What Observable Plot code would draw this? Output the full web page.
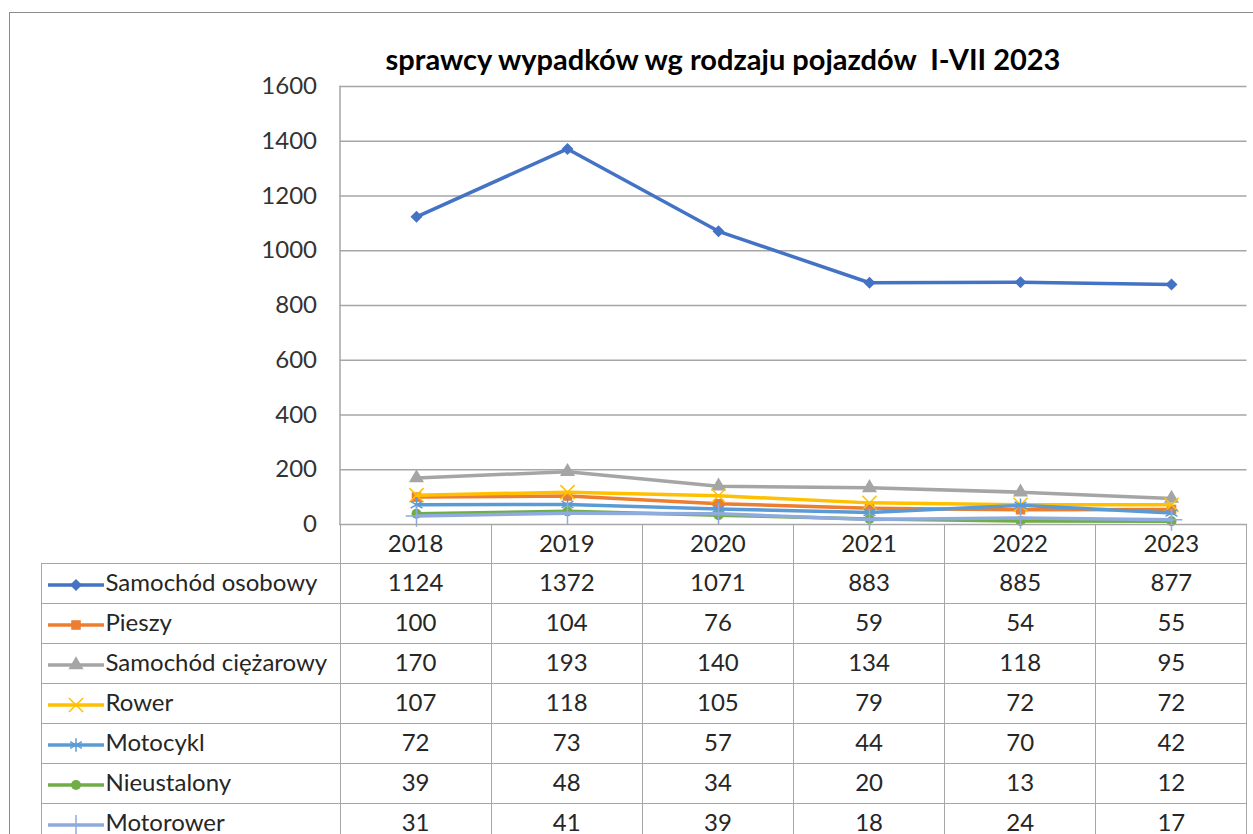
<!DOCTYPE html>
<html><head><meta charset="utf-8">
<script src="https://cdn.jsdelivr.net/npm/d3@7"></script>
<script src="https://cdn.jsdelivr.net/npm/@observablehq/plot@0.6"></script>
<style>
body{margin:0;background:#fff;font-family:Lato,"Open Sans",sans-serif;}
#wrap{position:relative;width:1253px;height:834px;overflow:hidden;background:#fff;}
#frame{position:absolute;left:9px;top:12px;width:1400px;height:1000px;border:1.5px solid #8c8c8c;box-sizing:border-box;}
#title{position:absolute;left:223px;width:1000px;top:41px;text-align:center;font-weight:bold;font-size:29px;color:#000;white-space:pre;}
#chart{position:absolute;left:0;top:0;}
#tbl{position:absolute;left:40.5px;top:523.5px;border-collapse:collapse;table-layout:fixed;font-size:24px;color:#262626;}
#tbl td{border:1.5px solid #a6a6a6;text-align:center;padding:0 0 3px 0;height:36px;white-space:nowrap;overflow:hidden;}
#tbl tr.hdr td{height:36px;padding:0 0 2px 0;}
#tbl td.lab{text-align:left;padding-left:5px;}
#tbl td.blank{border-top:none;border-left:none;}
#tbl svg{vertical-align:middle;margin-right:1px;}
</style></head>
<body>
<div id="wrap">
  <div id="frame"></div>
  <div id="chart"></div>
  <div id="title">sprawcy wypadków wg rodzaju pojazdów  I-VII 2023</div>
</div>
<script>
const years = ["2018","2019","2020","2021","2022","2023"];
const seriesNames = ["Samochód osobowy","Pieszy","Samochód ciężarowy","Rower","Motocykl","Nieustalony","Motorower"];
const samochodOsobowy = [1124,1372,1071,883,885,877];
const pieszy = [100,104,76,59,54,55];
const samochodCiezarowy = [170,193,140,134,118,95];
const rower = [107,118,105,79,72,72];
const motocykl = [72,73,57,44,70,42];
const nieustalony = [39,48,34,20,13,12];
const motorower = [31,41,39,18,24,17];
const seriesValues = [samochodOsobowy,pieszy,samochodCiezarowy,rower,motocykl,nieustalony,motorower];
const yTicks = [0,200,400,600,800,1000,1200,1400,1600];

const colors = ["#4472C4","#ED7D31","#A5A5A5","#FFC000","#5B9BD5","#70AD47","#8FAADC"];
const symbols = ["diamond2","square","triangle","times","asterisk","circle","plus"];
const filled = [true,true,true,false,false,true,false];
const radii = [5.4,5.4,5.6,6.5,6.5,5,7];

const data = [];
seriesNames.forEach((s,i)=>years.forEach((y,j)=>data.push({series:s, year:y, value:seriesValues[i][j]})));

const marks = [
  Plot.gridY(yTicks, {stroke:"#a6a6a6", strokeOpacity:1, strokeWidth:1.5}),
  Plot.frame({anchor:"left", stroke:"#a6a6a6", strokeWidth:1.5}),
  Plot.axisY(yTicks, {tickSize:0, tickPadding:23, fontSize:24, fill:"#333", label:null, tickFormat:d=>String(d)})
];
seriesNames.forEach((s,i)=>{
  const d = data.filter(r=>r.series===s);
  marks.push(Plot.line(d, {x:"year", y:"value", stroke:colors[i], strokeWidth:3.5, curve:"linear"}));
  const dotOpts = {x:"year", y:"value", symbol:()=>symbols[i], r:radii[i]};
  if (filled[i]) { dotOpts.fill = colors[i]; dotOpts.stroke = "none"; }
  else { dotOpts.fill = "none"; dotOpts.stroke = colors[i]; dotOpts.strokeWidth = 1.5; }
  marks.push(Plot.dot(d, dotOpts));
});

const chart = Plot.plot({
  width:1253, height:563,
  marginLeft:339.5, marginRight:6.5, marginTop:86, marginBottom:39,
  x:{type:"point", domain:years, padding:0.5, axis:null},
  y:{domain:[0,1600], axis:null},
  symbol:{type:"identity"},
  style:{fontFamily:"Lato, 'Open Sans', sans-serif", fontSize:"24px", color:"#333", background:"transparent", overflow:"visible"},
  marks
});
document.getElementById("chart").appendChild(chart);

// data table
const colW = (1246.5 - 339.5) / years.length;
const tbl = d3.select("#wrap").append("table").attr("id","tbl");
const cg = tbl.append("colgroup");
cg.append("col").style("width", (339.5-40.5)+"px");
years.forEach(()=>cg.append("col").style("width", colW+"px"));
const hdr = tbl.append("tr").attr("class","hdr");
hdr.append("td").attr("class","blank");
years.forEach(y=>hdr.append("td").text(y));
const symMap = {diamond2:d3.symbolDiamond2, square:d3.symbolSquare, triangle:d3.symbolTriangle, times:d3.symbolTimes, asterisk:d3.symbolAsterisk, circle:d3.symbolCircle, plus:d3.symbolPlus};
seriesNames.forEach((s,i)=>{
  const tr = tbl.append("tr");
  const td = tr.append("td").attr("class","lab");
  const svg = td.append("svg").attr("width",58).attr("height",20);
  svg.append("line").attr("x1",1).attr("x2",57).attr("y1",10).attr("y2",10).attr("stroke",colors[i]).attr("stroke-width",3.5);
  const p = svg.append("path").attr("transform","translate(29,10)")
    .attr("d", d3.symbol(symMap[symbols[i]], Math.PI*radii[i]*radii[i])());
  if (filled[i]) p.attr("fill",colors[i]); else p.attr("fill","none").attr("stroke",colors[i]).attr("stroke-width",1.5);
  td.append("span").text(s);
  seriesValues[i].forEach(v=>tr.append("td").text(v));
});
</script>
</body></html>
